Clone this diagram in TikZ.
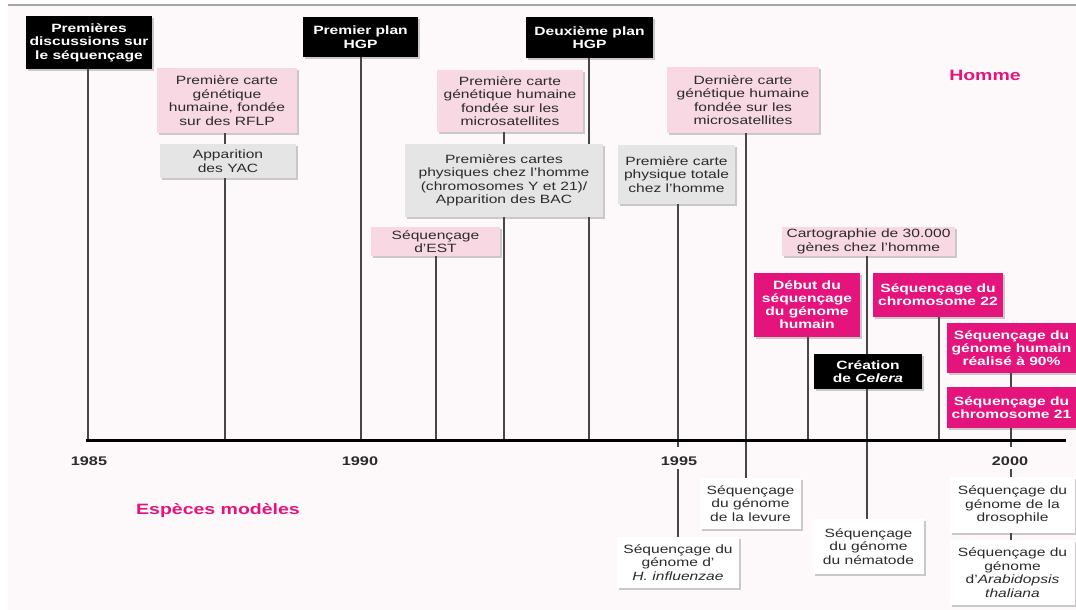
\documentclass[tikz,border=0pt]{standalone}
\usepackage{fontspec}
\setmainfont{Liberation Sans}[FakeStretch=1.3]
\usetikzlibrary{shadows}
\definecolor{bgpink}{HTML}{FDF9FA}
\definecolor{boxpink}{HTML}{F8D8E2}
\definecolor{boxgrey}{HTML}{E5E5E5}
\definecolor{hotpink}{HTML}{E5137C}
\definecolor{linegrey}{HTML}{474747}
\definecolor{txtgrey}{HTML}{2B2B2B}
\begin{document}
\begin{tikzpicture}[x=1pt, y=-1pt,
    base/.style={align=center, inner sep=0pt, text=txtgrey, font=\fontsize{12}{13.5}\selectfont,
        drop shadow={shadow xshift=2pt, shadow yshift=-2pt, fill=black!40}},
    blk/.style={base, fill=black, text=white, font=\fontsize{12}{13.5}\selectfont\bfseries},
    pnk/.style={base, fill=boxpink},
    gry/.style={base, fill=boxgrey},
    mag/.style={base, fill=hotpink, text=white, font=\fontsize{12}{13}\selectfont\bfseries},
    wht/.style={base, fill=white},
    vl/.style={draw=linegrey, line width=1.5pt},
    yr/.style={font=\fontsize{12.5}{14}\selectfont\bfseries, text=txtgrey},
    ttl/.style={font=\fontsize{15}{17}\selectfont\bfseries, text=hotpink}
]
    \useasboundingbox (0,0) rectangle (1076,610);
    \fill[bgpink] (8,5) rectangle (1076,610);
    \draw[black!35, line width=1.5pt] (8,5) -- (1076,5);

    \coordinate (a1) at (88,440);
    \coordinate (a2) at (225,440);
    \coordinate (a3) at (361,440);
    \coordinate (a4) at (436,440);
    \coordinate (a5) at (504,440);
    \coordinate (a6) at (589,440);
    \coordinate (a7) at (678,440);
    \coordinate (a8) at (746,440);
    \coordinate (a9) at (808,440);
    \coordinate (a10) at (867,440);
    \coordinate (a11) at (939,440);
    \coordinate (a12) at (1011,440);
    \coordinate (axl) at (86,440);
    \coordinate (axr) at (1066,440);
    \coordinate (k95) at (678,447);
    \coordinate (k00) at (1011,447);

    \node[blk, minimum width=126pt, minimum height=53pt] (disc) at (89,42.5) {Premières\\discussions sur\\le séquençage};
    \node[pnk, minimum width=140pt, minimum height=65pt] (rflp) at (227,100.5) {Première carte\\génétique\\humaine, fondée\\sur des RFLP};
    \node[gry, minimum width=136pt, minimum height=34pt] (yac) at (228,161) {Apparition\\des YAC};
    \node[blk, minimum width=115pt, minimum height=40pt] (plan1) at (360.5,37) {Premier plan\\HGP};
    \node[pnk, minimum width=129pt, minimum height=29pt] (est) at (435.5,241.5) {Séquençage\\d'EST};
    \node[pnk, minimum width=146pt, minimum height=62pt] (micro) at (510,101) {Première carte\\génétique humaine\\fondée sur les\\microsatellites};
    \node[gry, minimum width=198pt, minimum height=73pt] (bac) at (504,180.5) {Premières cartes\\physiques chez l'homme\\(chromosomes Y et 21)/\\Apparition des BAC};
    \node[blk, minimum width=127pt, minimum height=41pt] (plan2) at (589.5,37.5) {Deuxième plan\\HGP};
    \node[gry, minimum width=117pt, minimum height=59pt] (phys) at (676.5,174.5) {Première carte\\physique totale\\chez l'homme};
    \node[pnk, minimum width=152pt, minimum height=66pt] (last) at (743,100) {Dernière carte\\génétique humaine\\fondée sur les\\microsatellites};
    \node[mag, minimum width=106pt, minimum height=64pt] (debut) at (807,305) {Début du\\séquençage\\du génome\\humain};
    \node[pnk, minimum width=173pt, minimum height=29pt] (carto) at (868.5,241.5) {Cartographie de 30.000\\gènes chez l'homme};
    \node[blk, minimum width=108pt, minimum height=35pt] (celera) at (868,371.5) {Création\\de \textit{Celera}};
    \node[mag, minimum width=130pt, minimum height=44pt] (chr22) at (938,295) {Séquençage du\\chromosome 22};
    \node[mag, minimum width=129pt, minimum height=50pt] (ninety) at (1011.5,348) {Séquençage du\\génome humain\\réalisé à 90\%};
    \node[mag, minimum width=129pt, minimum height=41pt] (chr21) at (1011.5,407.5) {Séquençage du\\chromosome 21};

    \node[wht, minimum width=122pt, minimum height=51pt] (flu) at (678,562.5) {Séquençage du\\génome d'\\\textit{H. influenzae}};
    \node[wht, minimum width=101pt, minimum height=51pt] (levure) at (750.5,503.5) {Séquençage\\du génome\\de la levure};
    \node[wht, minimum width=111pt, minimum height=55pt] (nema) at (868.5,546.5) {Séquençage\\du génome\\du nématode};
    \node[wht, minimum width=125pt, minimum height=56pt] (droso) at (1012.5,505) {Séquençage du\\génome de la\\drosophile};
    \node[wht, minimum width=125pt, minimum height=65pt] (arabi) at (1012.5,572.5) {Séquençage du\\génome\\d'\textit{Arabidopsis}\\\textit{thaliana}};

    \node[yr] (y85) at (89,461) {1985};
    \node[yr] (y90) at (360,461) {1990};
    \node[yr] (y95) at (679,461) {1995};
    \node[yr] (y00) at (1010,461) {2000};
    \node[ttl] (homme) at (985,75) {Homme};
    \node[ttl] (especes) at (218,511) {Espèces modèles};

    \draw[vl] (disc.south -| a1) -- (a1);
    \draw[vl] (rflp.south -| a2) -- (yac.north -| a2); \draw[vl] (yac.south -| a2) -- (a2);
    \draw[vl] (plan1.south -| a3) -- (a3);
    \draw[vl] (est.south -| a4) -- (a4);
    \draw[vl] (micro.south -| a5) -- (bac.north -| a5); \draw[vl] (bac.south -| a5) -- (a5);
    \draw[vl] (plan2.south -| a6) -- (bac.north -| a6); \draw[vl] (bac.south -| a6) -- (a6);
    \draw[vl] (phys.south -| a7) -- (a7);
    \draw[vl] (last.south -| a8) -- (a8);
    \draw[vl] (debut.south -| a9) -- (a9);
    \draw[vl] (carto.south -| a10) -- (celera.north -| a10); \draw[vl] (celera.south -| a10) -- (a10);
    \draw[vl] (chr22.south -| a11) -- (a11);
    \draw[vl] (ninety.south -| a12) -- (chr21.north -| a12); \draw[vl] (chr21.south -| a12) -- (a12);

    \draw[vl] (a7) -- (k95); \draw[vl] (y95.south -| a7) -- (flu.north -| a7);
    \draw[vl] (a8) -- (levure.north -| a8);
    \draw[vl] (a10) -- (nema.north -| a10);
    \draw[vl] (a12) -- (k00); \draw[vl] (y00.south -| a12) -- (droso.north -| a12);
    \draw[vl] (droso.south -| a12) -- (arabi.north -| a12);

    \draw[black, line width=3pt] (axl) -- (axr);
\end{tikzpicture}
\end{document}
